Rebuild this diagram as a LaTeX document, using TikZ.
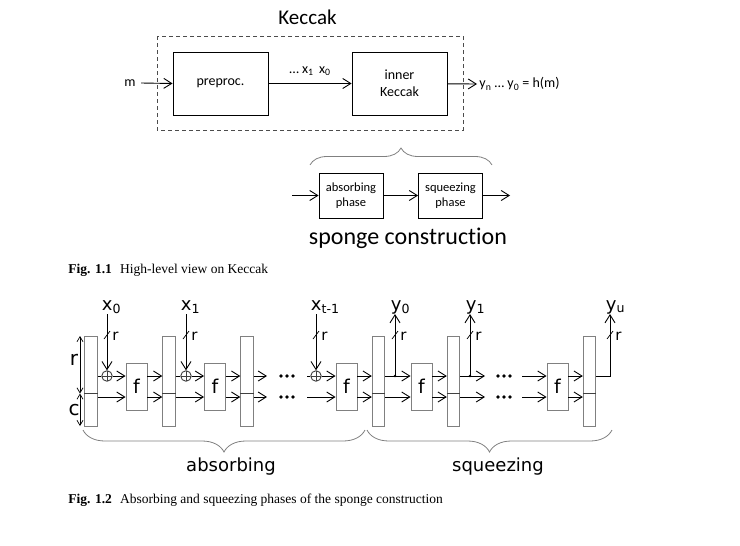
\documentclass[tikz,border=0pt]{standalone}
\usepackage{fontspec}
\setmainfont{Liberation Serif}
\newfontfamily\calib[Ligatures=NoCommon]{Carlito}
\newfontfamily\dejav{DejaVu Sans}
\usetikzlibrary{arrows.meta,decorations.pathreplacing,positioning}
\newcommand{\lowsub}[1]{\textsubscript{#1}}

\tikzset{
  >={Straight Barb[length=8pt,width=10pt]},
  blk/.style={draw,minimum width=95pt,minimum height=63pt,inner sep=0pt,align=center,font=\calib\fontsize{14}{17}\selectfont},
  phasebox/.style={draw,minimum width=64pt,minimum height=45pt,inner sep=0pt,align=center,font=\calib\fontsize{12.5}{15}\selectfont},
  statebar/.style={draw=gray,fill=white,minimum width=12.5pt,minimum height=90pt,inner sep=0pt},
  fbox/.style={draw=gray,fill=white,minimum width=21pt,minimum height=47pt,inner sep=0pt,font=\dejav\fontsize{19}{19}\selectfont},
  xorop/.style={circle,draw=darkgray,minimum size=10.5pt,inner sep=0pt,
    path picture={\draw[darkgray,line width=0.7pt] (path picture bounding box.north)--(path picture bounding box.south)
      (path picture bounding box.west)--(path picture bounding box.east);}},
  varlbl/.style={anchor=base west,inner sep=0pt,font=\dejav\fontsize{18}{18}\selectfont},
  widthlbl/.style={anchor=west,inner sep=0pt,font=\dejav\fontsize{15}{15}\selectfont},
  bracegray/.style={draw=gray,line width=0.8pt,decorate},
}

\begin{document}
\begin{tikzpicture}[x=1pt,y=-1pt,line width=0.9pt]
\useasboundingbox (0,0) rectangle (740,546);

% high-level view
\node[font=\calib\fontsize{21}{21}\selectfont] (title) at (307.5,17) {Keccak};
\draw[dashed,dash pattern=on 4pt off 3pt,draw=black!70] (157,36) rectangle (463,130);
\node[blk] (pre) at (220.5,83.5) {preproc.};
\node[blk] (inner) at (399.5,83.5) {inner\\Keccak};
\node[font=\calib\fontsize{14}{14}\selectfont,inner sep=5pt] (m) at (130,83) {m};
\node[anchor=west,inner sep=2pt,font=\calib\fontsize{14}{14}\selectfont] (hash) at (477,84) {y\lowsub{n} … y\lowsub{0} = h(m)};
\draw[->] (m.east) -- (pre.west);
\draw[->] (pre) -- node[midway,above=4pt,font=\calib\fontsize{14}{14}\selectfont] (xseq) {… x\lowsub{1}\, x\lowsub{0}} (inner);
\draw[->] (inner) -- (hash.west);

\draw[bracegray,decoration={brace,amplitude=17pt}] (310,165) -- (492,165);
\node[phasebox] (abs) at (351,195.5) {absorbing\\phase};
\node[phasebox] (sqz) at (450.5,195.5) {squeezing\\phase};
\coordinate (spin) at (292,195.5);
\coordinate (spout) at (510,195.5);
\draw[->] (spin) -- (abs);
\draw[->] (abs) -- (sqz);
\draw[->] (sqz) -- (spout);
\node[font=\calib\fontsize{24}{24}\selectfont] (sponge) at (408,238) {sponge construction};

\node[anchor=base west,inner sep=0pt,font=\fontsize{13.5}{13.5}\selectfont] (cap1) at (68,273) {\textbf{Fig. 1.1}\hspace{0.6em}High-level view on Keccak};

% absorbing and squeezing
\def\yr{376}
\def\yc{397}
\foreach \n/\x in {0/91,1/169,2/247,3/378.5,4/453.5,5/589.5}{
  \node[statebar] (s\n) at (\x,381) {};
  \draw[darkgray,line width=1.6pt] (s\n.west |- 0,393.5) -- (s\n.east |- 0,393.5);
}
\foreach \n/\x in {1/136.5,2/215,3/346.5,4/421.5,5/557.5}
  \node[fbox] (f\n) at (\x,386.5) {f};
\node[xorop] (xa) at (107,\yr) {};
\node[xorop] (xb) at (186,\yr) {};
\node[xorop] (xc) at (316,\yr) {};

% r and c widths
\draw[{Straight Barb[length=5pt,width=6pt]}-{Straight Barb[length=5pt,width=6pt]},line width=0.7pt] (80,336) -- (80,393.5);
\draw[{Straight Barb[length=5pt,width=6pt]}-{Straight Barb[length=5pt,width=6pt]},line width=0.7pt] (80,393.5) -- (80,426);
\node[font=\dejav\fontsize{20}{20}\selectfont] (rlbl) at (74,360) {r};
\node[font=\dejav\fontsize{20}{20}\selectfont] (clbl) at (74,410) {c};

% inputs
\foreach \nd/\x/\t in {xa/107/0,xb/186/1,xc/316/t-1}{
  \coordinate (in\nd) at (\x,314);
  \draw[->] (in\nd) -- (\nd);
  \draw[line width=0.7pt] (\x-3,339) -- (\x+3,331);
  \node[widthlbl] at (\x+5,336) {r};
  \node[varlbl] at (\x-5.5,310) {x\lowsub{\t}};
}

% state -> f -> state
\foreach \a/\b in {f1/s1,f2/s2,f3/s3,f4/s4,f5/s5}{
  \draw[->] (\a.east |- 0,\yr) -- (\b.west |- 0,\yr);
  \draw[->] (\a.east |- 0,\yc) -- (\b.west |- 0,\yc);
}
\draw (s0.east |- xa) -- (xa);
\draw[->] (xa) -- (xa -| f1.west);
\draw[->] (s0.east |- 0,\yc) -- (f1.west |- 0,\yc);
\draw (s1.east |- xb) -- (xb);
\draw[->] (xb) -- (xb -| f2.west);
\draw[->] (s1.east |- 0,\yc) -- (f2.west |- 0,\yc);
\draw[->] (s2.east |- 0,\yr) -- (267,\yr);
\draw[->] (s2.east |- 0,\yc) -- (267,\yc);
\draw (307,\yr) -- (xc);
\draw[->] (xc) -- (xc -| f3.west);
\draw[->] (307,\yc) -- (f3.west |- 0,\yc);
\draw[->] (s3.east |- 0,\yr) -- (f4.west |- 0,\yr);
\draw[->] (s3.east |- 0,\yc) -- (f4.west |- 0,\yc);
\draw[->] (s4.east |- 0,\yr) -- (485,\yr);
\draw[->] (s4.east |- 0,\yc) -- (485,\yc);
\draw[->] (522,\yr) -- (f5.west |- 0,\yr);
\draw[->] (522,\yc) -- (f5.west |- 0,\yc);
\foreach \x in {281,287,293,498,504,510}{
  \fill (\x,\yr) circle (1.8);
  \fill (\x,\yc) circle (1.8);
}

% outputs
\foreach \j/\x/\t in {ya/395/0,yb/470/1}{
  \coordinate (j\j) at (\x,\yr);
  \coordinate (out\j) at (\x,314);
  \fill (j\j) circle (1.3);
  \draw[->] (j\j) -- (out\j);
  \draw[line width=0.7pt] (\x-3,339) -- (\x+3,331);
  \node[widthlbl] at (\x+5,336) {r};
  \node[varlbl] at (\x-4.5,310) {y\lowsub{\t}};
}
\coordinate (outyc) at (610,314);
\draw[->] (s5.east |- 0,\yr) -| (outyc);
\draw[line width=0.7pt] (607,339) -- (613,331);
\node[widthlbl] at (615,336) {r};
\node[varlbl] at (605.5,310) {y\lowsub{u}};

\draw[bracegray,decoration={brace,amplitude=22pt}] (365,430) -- (83,430);
\draw[bracegray,decoration={brace,amplitude=22pt}] (612,430) -- (367,430);
\node[font=\dejav\fontsize{18}{18}\selectfont] (abslbl) at (231,467) {absorbing};
\node[font=\dejav\fontsize{18}{18}\selectfont] (sqzlbl) at (498,467) {squeezing};

\node[anchor=base west,inner sep=0pt,font=\fontsize{13.5}{13.5}\selectfont] (cap2) at (68,503) {\textbf{Fig. 1.2}\hspace{0.6em}Absorbing and squeezing phases of the sponge construction};
\end{tikzpicture}
\end{document}
